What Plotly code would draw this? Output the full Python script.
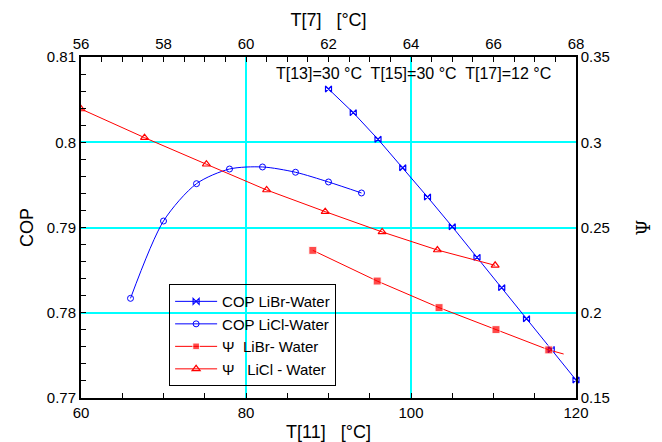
import plotly.graph_objects as go

# ---- data ----
t11_cop_libr = [90, 93, 96, 99, 102, 105, 108, 111, 114, 117, 120]
cop_libr = [0.80625, 0.80347, 0.80035, 0.79701, 0.79358, 0.79009, 0.78650, 0.78294, 0.77930, 0.77569, 0.77211]

t11_cop_licl = [66, 70, 74, 78, 82, 86, 90, 94]
cop_licl = [0.78169, 0.79076, 0.79514, 0.79686, 0.79710, 0.79648, 0.79534, 0.79405]

t11_psi_libr = [88.1, 95.9, 103.4, 110.3, 116.7, 118.5]
psi_libr = [0.2366, 0.2186, 0.2030, 0.1901, 0.1782, 0.1758]

t11_psi_licl = [60.0, 67.7, 75.2, 82.5, 89.6, 96.5, 103.2, 110.2]
psi_licl = [0.3195, 0.3027, 0.2871, 0.2720, 0.2593, 0.2474, 0.2368, 0.2278]

top_axis_range = [56, 68]
cop_ticks = [0.77, 0.78, 0.79, 0.80, 0.81]
cop_ticktext = ["0.77", "0.78", "0.79", "0.8", "0.81"]
psi_ticks = [0.15, 0.20, 0.25, 0.30, 0.35]
psi_ticktext = ["0.15", "0.2", "0.25", "0.3", "0.35"]

FONT = "Arial, Liberation Sans, sans-serif"
BLUE = "#0000ff"
RED = "#ff0000"
CYAN = "#00ffff"

fig = go.Figure()

fig.add_trace(go.Scatter(
    x=t11_cop_libr, y=cop_libr, name="COP LiBr-Water", mode="lines+markers",
    line=dict(color=BLUE, width=1),
    marker=dict(symbol="bowtie-open", size=6, color=BLUE, line=dict(width=1.2)),
    cliponaxis=False, xaxis="x", yaxis="y"))

fig.add_trace(go.Scatter(
    x=t11_cop_licl, y=cop_licl, name="COP LiCl-Water", mode="lines+markers",
    line=dict(color=BLUE, width=1, shape="spline", smoothing=0.8),
    marker=dict(symbol="circle-open", size=6, color=BLUE, line=dict(width=1)),
    xaxis="x", yaxis="y"))

fig.add_trace(go.Scatter(
    x=t11_psi_libr, y=psi_libr, name="\u03a8  LiBr- Water", mode="lines+markers",
    line=dict(color=RED, width=1),
    marker=dict(symbol="square", size=[8, 8, 8, 8, 8, 0], color=RED),
    xaxis="x", yaxis="y2"))

fig.add_trace(go.Scatter(
    x=t11_psi_licl, y=psi_licl, name="\u03a8   LiCl - Water", mode="lines+markers",
    line=dict(color=RED, width=1),
    marker=dict(symbol="triangle-up-open", size=7, color=RED, line=dict(width=1.2)),
    xaxis="x", yaxis="y2"))

# invisible trace to carry the top axis
fig.add_trace(go.Scatter(
    x=top_axis_range, y=[0.79, 0.79], mode="markers", marker=dict(opacity=0),
    showlegend=False, hoverinfo="skip", xaxis="x2", yaxis="y"))

tickfont = dict(family=FONT, size=15, color="black")
titlefont = dict(family=FONT, size=18, color="black")

# page body has an 8px margin: figure starts at (8, 8)
fig.update_layout(
    template="none",
    width=654, height=434,
    margin=dict(l=73, r=86, t=49, b=44, autoexpand=False),
    paper_bgcolor="white", plot_bgcolor="white",
    showlegend=True,
    legend=dict(
        x=0.178, y=0.334, xanchor="left", yanchor="top",
        bgcolor="rgba(0,0,0,0)", bordercolor="black", borderwidth=1,
        font=dict(family=FONT, size=15, color="black"),
        tracegroupgap=0, itemwidth=42, entrywidth=175, entrywidthmode="pixels",
    ),
    xaxis=dict(
        range=[60, 120], dtick=20, tick0=60, automargin=False,
        showgrid=True, gridcolor=CYAN, gridwidth=2,
        zeroline=False, showline=True, linecolor="black", linewidth=2,
        ticks="inside", ticklen=5, tickcolor="black",
        minor=dict(dtick=5, ticks="inside", ticklen=5, tickcolor="black", showgrid=False),
        tickfont=tickfont,
        title=dict(text="T[11]   [°C]", font=titlefont, standoff=6),
    ),
    xaxis2=dict(
        range=top_axis_range, dtick=2, tick0=56, overlaying="x", side="top", automargin=False,
        showgrid=False, zeroline=False, showline=True, linecolor="black", linewidth=1.5,
        ticks="inside", ticklen=5, tickcolor="black",
        minor=dict(dtick=0.5, ticks="inside", ticklen=5, tickcolor="black", showgrid=False),
        tickfont=tickfont,
        title=dict(text="T[7]   [°C]", font=titlefont, standoff=4),
    ),
    yaxis=dict(
        range=[0.77, 0.81], tickmode="array", tickvals=cop_ticks, ticktext=cop_ticktext,
        automargin=False,
        showgrid=True, gridcolor=CYAN, gridwidth=2,
        zeroline=False, showline=True, linecolor="black", linewidth=2,
        ticks="inside", ticklen=5, tickcolor="black",
        minor=dict(dtick=0.002, tick0=0.77, ticks="inside", ticklen=5, tickcolor="black", showgrid=False),
        tickfont=tickfont,
        title=dict(text="COP", font=titlefont, standoff=8),
    ),
    yaxis2=dict(
        range=[0.15, 0.35], tickmode="array", tickvals=psi_ticks, ticktext=psi_ticktext,
        overlaying="y", side="right", automargin=False,
        showgrid=False, zeroline=False, showline=True, linecolor="black", linewidth=1.5,
        ticks="", tickfont=tickfont,
        title=dict(text="\u03a8", font=dict(family="DejaVu Serif, serif", size=18, color="black"), standoff=28),
    ),
    annotations=[dict(
        text="T[13]=30 °C  T[15]=30 °C  T[17]=12 °C",
        xref="paper", yref="paper", x=0.672, y=0.953, xanchor="center", yanchor="middle",
        showarrow=False, font=dict(family=FONT, size=16, color="black"),
    )],
)

fig.write_html("out.html")
